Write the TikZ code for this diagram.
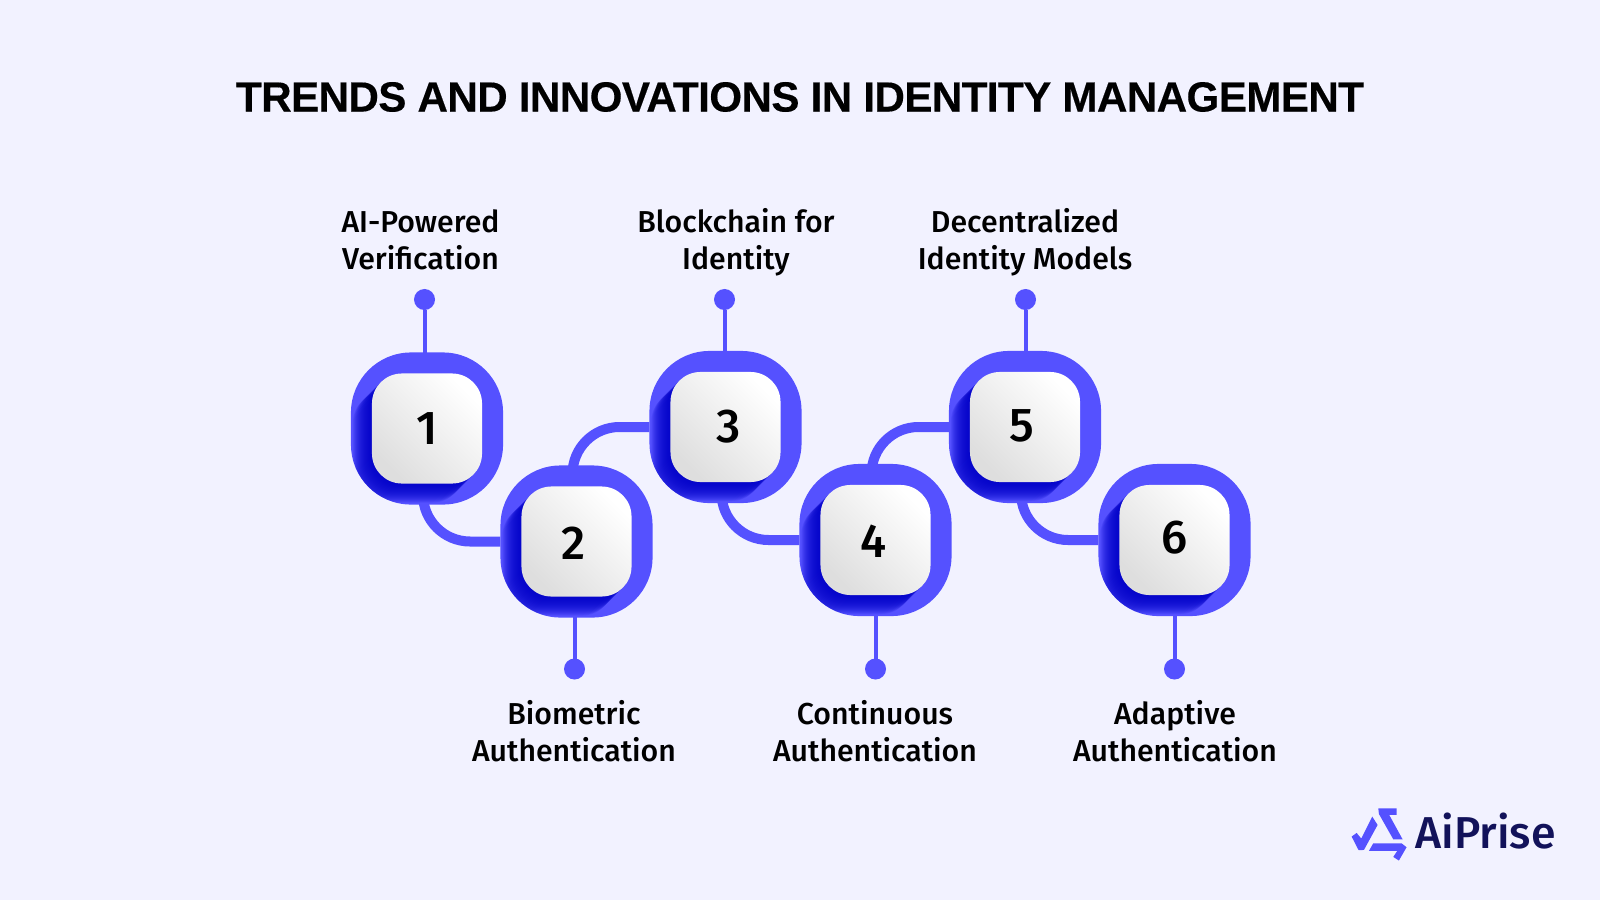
\documentclass[tikz,border=0pt]{standalone}
\usepackage{fontspec}
\setmainfont{Liberation Sans}
\newfontfamily\titlefont[LetterSpace=-1.45,BoldFeatures={FakeBold=0.3}]{Liberation Sans}
\newfontfamily\medfont{Fira Sans Medium}
\usetikzlibrary{calc,backgrounds}
\definecolor{paper}{HTML}{F2F2FF}
\definecolor{brand}{HTML}{5551FF}
\definecolor{deepblue}{HTML}{0000C8}
\definecolor{navy}{HTML}{12125A}
\begin{document}
\begin{tikzpicture}[x=0.01cm,y=-0.01cm]
	\tikzset{outerbox/.style={fill=brand, rounded corners=0.6cm, minimum size=1.52cm, inner sep=0pt, outer sep=0pt},
		cardbox/.style={top color=white, bottom color=black!13, shading angle=-45, rounded corners=0.3cm, minimum size=1.1cm, inner sep=0pt, outer sep=0pt},
		digit/.style={inner sep=0pt, font=\medfont\fontsize{13.5}{13.5}\selectfont},
		pindot/.style={circle, fill=brand, minimum size=0.21cm, inner sep=0pt, outer sep=0pt},
		stem/.style={draw=brand, line width=0.04cm},
		link/.style={draw=brand, line width=0.1cm, rounded corners=0.47cm},
		steplabel/.style={align=center, inner sep=0pt, font=\medfont\fontsize{8.6}{10.5}\selectfont}}
	\useasboundingbox (0,0) rectangle (1600,900);
	\begin{pgfonlayer}{background}
		\fill[paper] (0,0) rectangle (1600,900);
	\end{pgfonlayer}
	%Title
	\node[inner sep=0pt, font=\titlefont\bfseries\fontsize{12}{12}\selectfont] (title) at (800,97) {TRENDS AND INNOVATIONS IN IDENTITY MANAGEMENT};
	
	%Boxes
	\foreach \n/\x/\y/\dx/\dy in {1/427/428.5/0/0, 2/576.5/541.5/-3/2, 3/725.5/427/3/0, 4/875.5/540/-2/1, 5/1025/427/-3/-1, 6/1174.5/540/0/-2}{
		\node[outerbox] (box\n) at (\x,\y) {};
		\begin{scope}
			\path[clip, rounded corners=0.6cm] (box\n.south west) rectangle (box\n.north east);
			\foreach \s in {1,...,19}{
				\fill[deepblue, opacity=.11, rounded corners=0.3cm] ($(box\n)+(-55-\s,-55+\s)$) rectangle ($(box\n)+(55-\s,55+\s)$);
			}
		\end{scope}
		\node[cardbox] (card\n) at (box\n) {};
		\node[digit] (digit\n) at ($(card\n)+(\dx,\dy)$) {\n};
	}
	
	%Pins
	\foreach \n/\x/\y in {1/424.5/299.5, 2/574.5/669, 3/724.5/299.5, 4/875.5/669, 5/1025.5/299.5, 6/1174.5/669}{
		\node[pindot] (pin\n) at (\x,\y) {};
		\begin{pgfonlayer}{background}
			\draw[stem] (pin\n) -- (pin\n |- box\n);
		\end{pgfonlayer}
	}
	
	%Links
	\begin{pgfonlayer}{background}
		\draw[link] ($(box1)+(-4,0)$) |- (box2);
		\draw[link] ($(box2)+(-4,0)$) |- (box3);
		\draw[link] ($(box3)+(-4,0)$) |- (box4);
		\draw[link] ($(box4)+(-4,0)$) |- (box5);
		\draw[link] ($(box5)+(-4,0)$) |- (box6);
	\end{pgfonlayer}
	
	%Labels
	\node[steplabel] (label1) at (420.5,243.5) {\strut AI-Powered\\\strut Verification};
	\node[steplabel] (label2) at (574,735.5) {\strut Biometric\\\strut Authentication};
	\node[steplabel] (label3) at (736,243.5) {\strut Blockchain for\\\strut Identity};
	\node[steplabel] (label4) at (875,735.5) {\strut Continuous\\\strut Authentication};
	\node[steplabel] (label5) at (1025,243.5) {\strut Decentralized\\\strut Identity Models};
	\node[steplabel] (label6) at (1175,735.5) {\strut Adaptive\\\strut Authentication};
	
	%Logo
	\begin{scope}[shift={(1330,790)}, x=0.00333cm, y=-0.00333cm]
		\fill[brand] (145,55) -- (200,55) -- (200,75) -- (178,75) -- (218,148) -- (190,148) -- (147,72) -- cycle;
		\fill[brand] (65,140) -- (80,129) -- (94,146) -- (127,80) -- (143,105) -- (102,180) -- (86,181) -- cycle;
		\fill[brand] (130,160) -- (215,160) -- (230,172) -- (207,212) -- (190,201) -- (202,183) -- (117,183) -- cycle;
	\end{scope}
	\node[inner sep=0pt, text=navy, font=\medfont\fontsize{12.7}{12.7}\selectfont] (logo) at (1485.5,831) {AiPrise};
\end{tikzpicture}
\end{document}
